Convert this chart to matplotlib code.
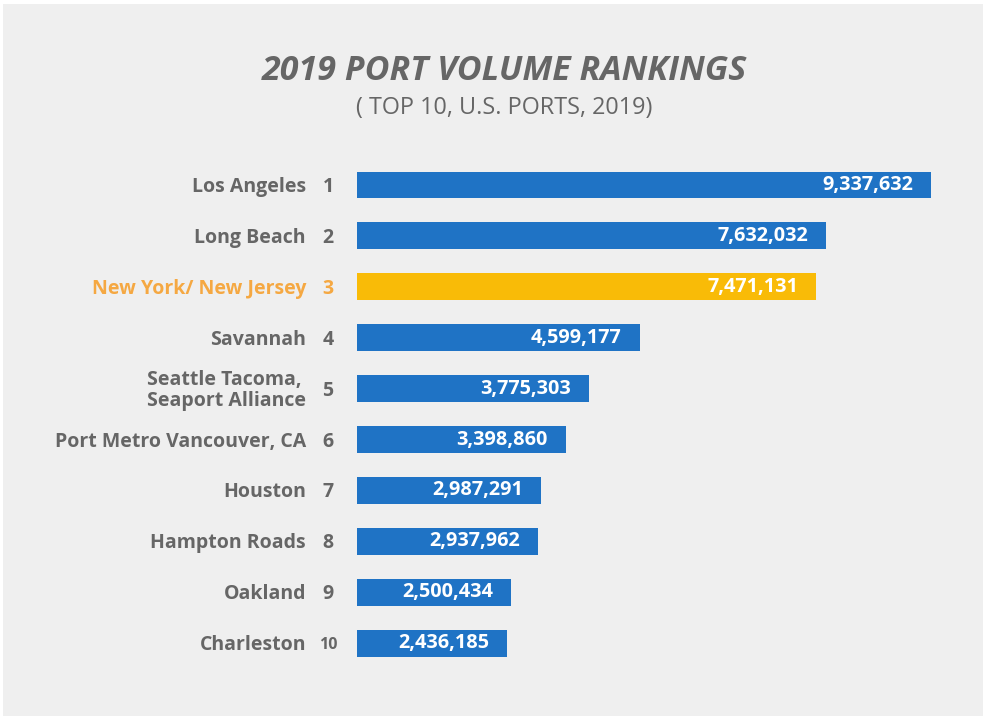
import matplotlib
matplotlib.use("Agg")
import matplotlib.pyplot as plt
from matplotlib.patches import Rectangle

ports = ["Los Angeles", "Long Beach", "New York/ New Jersey", "Savannah",
         "Seattle Tacoma,\nSeaport Alliance", "Port Metro Vancouver, CA",
         "Houston", "Hampton Roads", "Oakland", "Charleston"]
ranks = ["1", "2", "3", "4", "5", "6", "7", "8", "9", "10"]
volumes = [9337632, 7632032, 7471131, 4599177, 3775303, 3398860,
           2987291, 2937962, 2500434, 2436185]
highlight = "New York/ New Jersey"

W, H = 984, 718
dpi = 100
fig = plt.figure(figsize=(W / dpi, H / dpi), dpi=dpi, facecolor="white")
fig.patches.append(Rectangle((3 / W, 2 / H), (980 / W), (712 / H),
                             transform=fig.transFigure, facecolor="#efefef",
                             edgecolor="none", zorder=-10))

FONT = "Open Sans"
GRAY = "#666666"
BLUE = "#1f73c5"
YELLOW = "#f9bb07"
ORANGE = "#f5a842"

spacing = 50.9
ax_h = 10 * spacing
top_px = 185 - spacing / 2
ax = fig.add_axes([357 / W, 1 - (top_px + ax_h) / H, 615 / W, ax_h / H])
ax.set_xlim(0, 10e6)
ax.set_ylim(9.5, -0.5)
ax.axis("off")

colors = [YELLOW if p == highlight else BLUE for p in ports]
ypos = list(range(len(ports)))
ax.barh(ypos, volumes, height=0.53, color=colors, zorder=2)

pt = 72 / dpi
for i, (p, r, v) in enumerate(zip(ports, ranks, volumes)):
    c = ORANGE if p == highlight else GRAY
    ax.annotate(f"{v:,}", xy=(v, i), xytext=(-18 * pt, 0), textcoords="offset points",
                ha="right", va="center", color="white", fontsize=14.3,
                fontweight="bold", family=FONT)
    ax.annotate(p, xy=(0, i), xytext=(-51 * pt, -2 * pt), textcoords="offset points",
                ha="right", va="center", color=c, fontsize=14,
                fontweight="bold", family=FONT, multialignment="left",
                linespacing=1.05, annotation_clip=False)
    ax.annotate(r, xy=(0, i), xytext=(-29 * pt, -2 * pt), textcoords="offset points",
                ha="center", va="center", color=c,
                fontsize=(11.5 if len(r) > 1 else 14),
                fontweight="bold", family=FONT, annotation_clip=False)

fig.text(504 / W, 1 - 80 / H, "2019 PORT VOLUME RANKINGS", ha="center", va="baseline",
         fontsize=24.5, fontweight="bold", fontstyle="italic", color=GRAY, family=FONT)
fig.text(504 / W, 1 - 114 / H, "( TOP 10, U.S. PORTS, 2019)", ha="center", va="baseline",
         fontsize=16.8, color=GRAY, family=FONT)

fig.savefig("out.png", dpi=dpi, facecolor="white")
